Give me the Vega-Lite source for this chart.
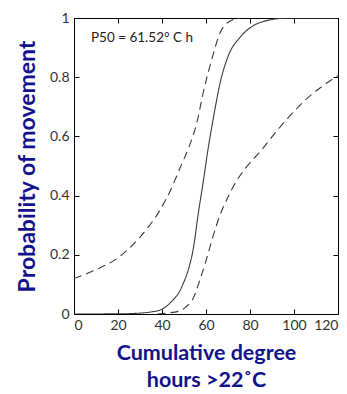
{
  "$schema": "https://vega.github.io/schema/vega-lite/v6.json",
  "width": 264,
  "height": 296,
  "autosize": {"type": "none"},
  "padding": {"left": 74, "top": 18, "right": 9, "bottom": 80},
  "background": "white",
  "config": {
    "view": {"stroke": "black", "strokeWidth": 1},
    "axis": {
      "grid": false,
      "domainColor": "black",
      "tickColor": "black",
      "labelFont": "Lato",
      "labelFontSize": 14,
      "labelColor": "#333333",
      "titleFont": "Lato",
      "titleFontWeight": "bold",
      "titleColor": "#12128c"
    }
  },
  "data": {
    "values": [
      {"x": 0, "p": 0.0, "series": "fit", "kind": "solid"},
      {"x": 20, "p": 0.0005, "series": "fit", "kind": "solid"},
      {"x": 30, "p": 0.003, "series": "fit", "kind": "solid"},
      {"x": 35, "p": 0.007, "series": "fit", "kind": "solid"},
      {"x": 39, "p": 0.013, "series": "fit", "kind": "solid"},
      {"x": 42, "p": 0.026, "series": "fit", "kind": "solid"},
      {"x": 45, "p": 0.047, "series": "fit", "kind": "solid"},
      {"x": 47.5, "p": 0.07, "series": "fit", "kind": "solid"},
      {"x": 49.7, "p": 0.104, "series": "fit", "kind": "solid"},
      {"x": 52, "p": 0.15, "series": "fit", "kind": "solid"},
      {"x": 54.2, "p": 0.22, "series": "fit", "kind": "solid"},
      {"x": 56.5, "p": 0.34, "series": "fit", "kind": "solid"},
      {"x": 58.8, "p": 0.45, "series": "fit", "kind": "solid"},
      {"x": 61, "p": 0.56, "series": "fit", "kind": "solid"},
      {"x": 63.3, "p": 0.66, "series": "fit", "kind": "solid"},
      {"x": 66.4, "p": 0.78, "series": "fit", "kind": "solid"},
      {"x": 70, "p": 0.87, "series": "fit", "kind": "solid"},
      {"x": 75.5, "p": 0.935, "series": "fit", "kind": "solid"},
      {"x": 81.5, "p": 0.974, "series": "fit", "kind": "solid"},
      {"x": 88, "p": 0.992, "series": "fit", "kind": "solid"},
      {"x": 95, "p": 0.999, "series": "fit", "kind": "solid"},
      {"x": 100, "p": 1.0, "series": "fit", "kind": "solid"},
      {"x": 120, "p": 1.0, "series": "fit", "kind": "solid"},
      {"x": 0, "p": 0.12, "series": "upper", "kind": "dashed"},
      {"x": 10, "p": 0.15, "series": "upper", "kind": "dashed"},
      {"x": 20, "p": 0.19, "series": "upper", "kind": "dashed"},
      {"x": 30, "p": 0.26, "series": "upper", "kind": "dashed"},
      {"x": 39, "p": 0.35, "series": "upper", "kind": "dashed"},
      {"x": 44, "p": 0.42, "series": "upper", "kind": "dashed"},
      {"x": 48, "p": 0.49, "series": "upper", "kind": "dashed"},
      {"x": 52, "p": 0.56, "series": "upper", "kind": "dashed"},
      {"x": 55.8, "p": 0.645, "series": "upper", "kind": "dashed"},
      {"x": 58.8, "p": 0.75, "series": "upper", "kind": "dashed"},
      {"x": 62.6, "p": 0.86, "series": "upper", "kind": "dashed"},
      {"x": 66.4, "p": 0.95, "series": "upper", "kind": "dashed"},
      {"x": 71, "p": 0.99, "series": "upper", "kind": "dashed"},
      {"x": 75.5, "p": 1.0, "series": "upper", "kind": "dashed"},
      {"x": 38, "p": 0.0, "series": "lower", "kind": "dashed"},
      {"x": 42, "p": 0.003, "series": "lower", "kind": "dashed"},
      {"x": 48, "p": 0.01, "series": "lower", "kind": "dashed"},
      {"x": 51, "p": 0.025, "series": "lower", "kind": "dashed"},
      {"x": 54, "p": 0.05, "series": "lower", "kind": "dashed"},
      {"x": 57, "p": 0.11, "series": "lower", "kind": "dashed"},
      {"x": 60, "p": 0.18, "series": "lower", "kind": "dashed"},
      {"x": 62.5, "p": 0.245, "series": "lower", "kind": "dashed"},
      {"x": 65, "p": 0.305, "series": "lower", "kind": "dashed"},
      {"x": 67.5, "p": 0.355, "series": "lower", "kind": "dashed"},
      {"x": 70, "p": 0.395, "series": "lower", "kind": "dashed"},
      {"x": 73.5, "p": 0.445, "series": "lower", "kind": "dashed"},
      {"x": 77.7, "p": 0.49, "series": "lower", "kind": "dashed"},
      {"x": 85.3, "p": 0.555, "series": "lower", "kind": "dashed"},
      {"x": 92, "p": 0.617, "series": "lower", "kind": "dashed"},
      {"x": 97, "p": 0.66, "series": "lower", "kind": "dashed"},
      {"x": 102, "p": 0.70, "series": "lower", "kind": "dashed"},
      {"x": 107, "p": 0.735, "series": "lower", "kind": "dashed"},
      {"x": 113, "p": 0.77, "series": "lower", "kind": "dashed"},
      {"x": 120, "p": 0.805, "series": "lower", "kind": "dashed"}
    ]
  },
  "resolve": {"axis": {"x": "independent", "y": "independent"}},
  "layer": [
    {
      "mark": {"type": "line", "strokeWidth": 1.1, "color": "#3a3a3a", "clip": true, "interpolate": "monotone"},
      "encoding": {
        "x": {
          "field": "x", "type": "quantitative",
          "scale": {"domain": [0, 120], "nice": false},
          "axis": {
            "values": [0, 20, 40, 60, 80, 100, 120],
            "tickSize": -5,
            "labelPadding": 9,
            "title": ["Cumulative degree", "hours >22˚C"],
            "titleFontSize": 21.5,
            "titleLineHeight": 27,
            "titlePadding": 10
          }
        },
        "y": {
          "field": "p", "type": "quantitative",
          "scale": {"domain": [0, 1], "nice": false},
          "axis": {
            "values": [0, 0.2, 0.4, 0.6, 0.8, 1],
            "format": ".1~f",
            "tickSize": -5,
            "labelPadding": 10,
            "title": "Probability of movement",
            "titleFontSize": 23,
            "titlePadding": 10
          }
        },
        "detail": {"field": "series"},
        "strokeDash": {
          "field": "kind", "type": "nominal",
          "scale": {"domain": ["solid", "dashed"], "range": [[1, 0], [8, 5]]},
          "legend": null
        }
      }
    },
    {
      "mark": {"type": "line", "opacity": 0},
      "encoding": {
        "x": {
          "field": "x", "type": "quantitative",
          "scale": {"domain": [0, 120], "nice": false},
          "axis": {"orient": "top", "values": [0, 20, 40, 60, 80, 100, 120], "tickSize": -5, "labels": false, "title": null}
        },
        "y": {
          "field": "p", "type": "quantitative",
          "scale": {"domain": [0, 1], "nice": false},
          "axis": {"orient": "right", "values": [0, 0.2, 0.4, 0.6, 0.8, 1], "tickSize": -5, "labels": false, "title": null}
        },
        "detail": {"field": "series"}
      }
    },
    {
      "data": {"values": [{"label": "P50 = 61.52° C h"}]},
      "mark": {"type": "text", "align": "left", "baseline": "middle", "font": "Lato", "fontSize": 13.5, "color": "#222222"},
      "encoding": {
        "x": {"datum": 7.7, "type": "quantitative", "scale": {"domain": [0, 120], "nice": false}, "axis": null},
        "y": {"datum": 0.932, "type": "quantitative", "scale": {"domain": [0, 1], "nice": false}, "axis": null},
        "text": {"field": "label"}
      }
    }
  ]
}
